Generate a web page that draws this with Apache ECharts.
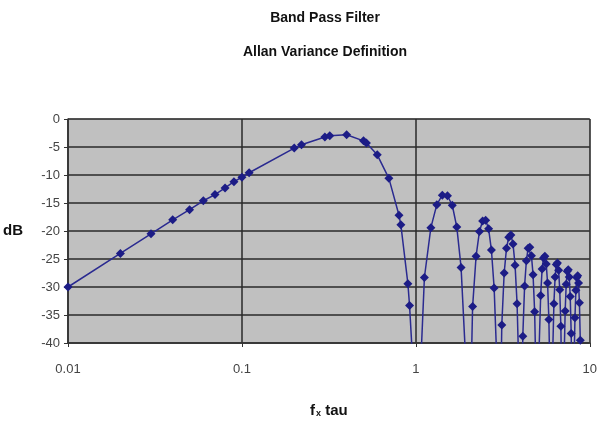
<!DOCTYPE html>
<html>
<head>
<meta charset="utf-8">
<script src="https://cdn.jsdelivr.net/npm/echarts@6/dist/echarts.min.js"></script>
<style>
  html, body { margin: 0; padding: 0; background: #fff; }
  #chart { width: 600px; height: 425px; }
</style>
</head>
<body>
<div id="chart"></div>
<script>
// f x tau (log axis) and response in dB
const fTau = [
  0.01, 0.02, 0.03, 0.04, 0.05, 0.06, 0.07, 0.08, 0.09, 0.1, 0.11,
  0.2, 0.22, 0.3, 0.32, 0.4, 0.5, 0.52, 0.6, 0.7, 0.8, 0.82, 0.9, 0.92, 1.02,
  1.12, 1.22, 1.32, 1.42, 1.52, 1.62, 1.72, 1.82, 1.92, 2.02,
  2.12, 2.22, 2.32, 2.42, 2.52, 2.62, 2.72, 2.82, 2.92, 3.02,
  3.12, 3.22, 3.32, 3.42, 3.52, 3.62, 3.72, 3.82, 3.92, 4.02,
  4.12, 4.22, 4.32, 4.42, 4.52, 4.62, 4.72, 4.82, 4.92, 5.02,
  5.12, 5.22, 5.32, 5.42, 5.52, 5.62, 5.72, 5.82, 5.92, 6.02,
  6.12, 6.22, 6.32, 6.42, 6.52, 6.62, 6.72, 6.82, 6.92, 7.02,
  7.12, 7.22, 7.32, 7.42, 7.52, 7.62, 7.72, 7.82, 7.92, 8.02,
  8.12, 8.22, 8.32, 8.42, 8.52, 8.62, 8.72, 8.82, 8.92, 9.02
];
const dB = [
  -30.0, -24.0, -20.5, -18.0, -16.2, -14.6, -13.5, -12.3, -11.2, -10.4, -9.6,
  -5.2, -4.6, -3.2, -3.0, -2.8, -3.9, -4.3, -6.4, -10.6, -17.2, -18.9, -29.4, -33.3, -58,
  -28.3, -19.4, -15.3, -13.6, -13.7, -15.4, -19.3, -26.5, -41, -64,
  -33.5, -24.5, -20.1, -18.2, -18.1, -19.6, -23.4, -30.2, -43, -67,
  -36.8, -27.5, -23.1, -21.1, -20.7, -22.3, -26.1, -33.0, -46, -70,
  -38.8, -29.8, -25.3, -23.1, -22.9, -24.4, -27.8, -34.4, -48, -72,
  -40.5, -31.5, -26.8, -24.8, -24.5, -25.9, -29.3, -35.8, -49, -73,
  -42.0, -33.0, -28.2, -26.0, -25.7, -27.0, -30.5, -37.0, -51, -74,
  -43.0, -34.3, -29.5, -27.2, -26.9, -28.2, -31.7, -38.3, -52, -75,
  -44.0, -35.5, -30.6, -28.3, -28.0, -29.3, -32.8, -39.5, -53, -76
];
const xTicks = [0.01, 0.1, 1, 10];
const yMin = -40, yMax = 0, yStep = 5;

const FONT = "'Liberation Sans Narrow', 'Liberation Sans', sans-serif";
const NAVY = '#1c1c86';

let chart = echarts.init(document.getElementById('chart'), null, { renderer: 'canvas' });
let points = fTau.map((f, i) => [f, dB[i]]);

let option = {
  backgroundColor: '#ffffff',
  animation: false,
  title: {
    text: 'Band Pass Filter\nAllan Variance Definition',
    left: 320,
    top: -4,
    textAlign: 'center',
    textStyle: {
      fontFamily: FONT,
      fontSize: 14,
      fontWeight: 'bold',
      color: '#111',
      lineHeight: 34
    }
  },
  grid: {
    left: 67,
    right: 8,
    top: 119,
    bottom: 82,
    show: true,
    backgroundColor: '#c0c0c0',
    borderColor: '#9a9a9a',
    borderWidth: 1
  },
  xAxis: {
    type: 'log',
    logBase: 10,
    min: xTicks[0],
    max: xTicks[xTicks.length - 1],
    name: '{f|f}{s|x}{f| tau}',
    nameLocation: 'middle',
    nameGap: 60,
    nameTextStyle: {
      rich: {
        f: { fontFamily: FONT, fontSize: 15, fontWeight: 'bold', color: '#111' },
        s: { fontFamily: FONT, fontSize: 9, fontWeight: 'bold', color: '#111', verticalAlign: 'bottom', padding: [6, 0, 0, 1] }
      }
    },
    axisLine: { show: true, onZero: false, lineStyle: { color: '#333', width: 1.5 } },
    axisTick: { show: true, length: 4, lineStyle: { color: '#333' } },
    minorTick: { show: false },
    axisLabel: {
      margin: 20,
      fontFamily: FONT,
      fontSize: 13,
      color: '#444',
      formatter: v => String(v)
    },
    splitLine: { show: true, lineStyle: { color: '#2a2a2a', width: 1.5 } }
  },
  yAxis: {
    type: 'value',
    min: yMin,
    max: yMax,
    interval: yStep,
    name: 'dB',
    nameLocation: 'middle',
    nameRotate: 0,
    nameGap: 45,
    nameTextStyle: { fontFamily: FONT, fontSize: 15, fontWeight: 'bold', color: '#111' },
    axisLine: { show: true, lineStyle: { color: '#333', width: 1.5 } },
    axisTick: { show: true, length: 4, lineStyle: { color: '#333' } },
    axisLabel: { margin: 8, fontFamily: FONT, fontSize: 13, color: '#444' },
    splitLine: { show: true, lineStyle: { color: '#2a2a2a', width: 1.5 } }
  },
  series: [{
    type: 'line',
    data: points,
    clip: true,
    symbol: 'diamond',
    symbolSize: 9,
    showAllSymbol: true,
    itemStyle: { color: NAVY },
    lineStyle: { color: '#2a2a90', width: 1.5 }
  }]
};
chart.setOption(option);
</script>
</body>
</html>
